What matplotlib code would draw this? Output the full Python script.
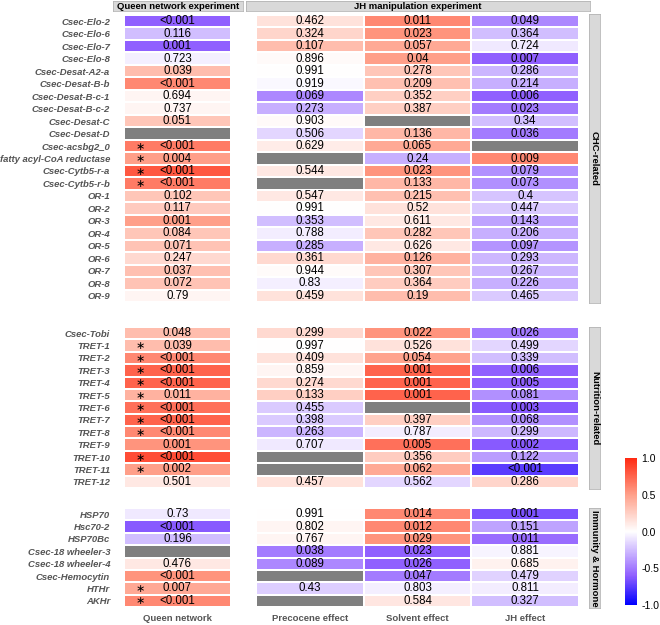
import numpy as np
import matplotlib.pyplot as plt
from matplotlib.colors import LinearSegmentedColormap, Normalize
from matplotlib.cm import ScalarMappable

plt.rcParams['font.family'] = ['Liberation Sans', 'DejaVu Sans']

# DATA
groups = ['CHC-related', 'Nutrition-related', 'Immunity & Hormone']
group_sizes = [23, 13, 8]

genes = ['Csec-Elo-2', 'Csec-Elo-6', 'Csec-Elo-7', 'Csec-Elo-8', 'Csec-Desat-A2-a',
         'Csec-Desat-B-b', 'Csec-Desat-B-c-1', 'Csec-Desat-B-c-2', 'Csec-Desat-C',
         'Csec-Desat-D', 'Csec-acsbg2_0', 'fatty acyl-CoA reductase', 'Csec-Cytb5-r-a',
         'Csec-Cytb5-r-b', 'OR-1', 'OR-2', 'OR-3', 'OR-4', 'OR-5', 'OR-6', 'OR-7', 'OR-8', 'OR-9',
         'Csec-Tobi', 'TRET-1', 'TRET-2', 'TRET-3', 'TRET-4', 'TRET-5', 'TRET-6', 'TRET-7',
         'TRET-8', 'TRET-9', 'TRET-10', 'TRET-11', 'TRET-12',
         'HSP70', 'Hsc70-2', 'HSP70Bc', 'Csec-18 wheeler-3', 'Csec-18 wheeler-4',
         'Csec-Hemocytin', 'HTHr', 'AKHr']

# queen network experiment
queen_p = ['<0.001', '0.116', '0.001', '0.723', '0.039', '<0.001', '0.694', '0.737', '0.051', '',
           '<0.001', '0.004', '<0.001', '<0.001', '0.102', '0.117', '0.001', '0.084', '0.071',
           '0.247', '0.037', '0.072', '0.79',
           '0.048', '0.039', '<0.001', '<0.001', '<0.001', '0.011', '<0.001', '<0.001', '<0.001',
           '0.001', '<0.001', '0.002', '0.501',
           '0.73', '<0.001', '0.196', '', '0.476', '<0.001', '0.007', '<0.001']
queen_eff = [-0.6, -0.25, -0.6, -0.06, 0.35, 0.6, 0.05, 0.05, 0.3, np.nan,
             0.65, 0.5, 0.8, 0.65, 0.3, 0.28, 0.5, 0.3, 0.32, 0.2, 0.33, 0.32, 0.05,
             0.35, 0.35, 0.6, 0.75, 0.75, 0.4, 0.7, 0.75, 0.6, 0.55, 0.85, 0.5, 0.12,
             -0.08, -0.62, -0.25, np.nan, 0.12, 0.55, 0.45, 0.6]
queen_sig = [0] * 10 + [1, 1, 1, 1] + [0] * 9 + \
            [0, 1, 1, 1, 1, 1, 1, 1, 1, 0, 1, 1, 0] + \
            [0, 0, 0, 0, 0, 0, 1, 1]

# JH manipulation experiment
prec_p = ['0.462', '0.324', '0.107', '0.896', '0.991', '0.919', '0.069', '0.273', '0.903', '0.506',
          '0.629', '', '0.544', '', '0.547', '0.991', '0.353', '0.788', '0.285', '0.361', '0.944',
          '0.83', '0.459',
          '0.299', '0.997', '0.409', '0.859', '0.274', '0.133', '0.455', '0.398', '0.263', '0.707',
          '', '', '0.457',
          '0.991', '0.802', '0.767', '0.038', '0.089', '', '0.43', '']
prec_eff = [0.15, 0.22, 0.35, 0.03, 0.0, -0.03, -0.45, -0.3, 0.03, -0.15,
            0.1, np.nan, 0.12, np.nan, 0.12, 0.0, -0.25, -0.07, -0.3, 0.2, 0.02, -0.06, 0.15,
            0.2, 0.0, 0.15, 0.05, 0.2, 0.25, -0.2, -0.2, -0.28, -0.08, np.nan, np.nan, 0.15,
            0.0, 0.05, 0.05, -0.5, -0.45, np.nan, -0.18, np.nan]

solv_p = ['0.011', '0.023', '0.057', '0.04', '0.278', '0.209', '0.352', '0.387', '', '0.136',
          '0.065', '0.24', '0.023', '0.133', '0.215', '0.52', '0.611', '0.282', '0.626', '0.126',
          '0.307', '0.364', '0.19',
          '0.022', '0.526', '0.054', '0.001', '0.001', '0.001', '', '0.397', '0.787', '0.005',
          '0.356', '0.062', '0.562',
          '0.014', '0.012', '0.029', '0.023', '0.026', '0.047', '0.803', '0.584']
solv_eff = [0.6, 0.55, 0.45, 0.5, 0.3, 0.33, 0.25, 0.25, np.nan, 0.38,
            0.45, -0.3, 0.55, 0.38, 0.33, 0.15, 0.12, 0.3, 0.12, 0.4, 0.3, 0.27, 0.35,
            0.55, 0.15, 0.48, 0.75, 0.75, 0.75, np.nan, 0.25, -0.07, 0.7, 0.27, 0.45, -0.15,
            0.6, 0.6, 0.55, -0.6, -0.6, -0.5, -0.06, 0.13]

jh_p = ['0.049', '0.364', '0.724', '0.007', '0.286', '0.214', '0.006', '0.023', '0.34', '0.036',
        '', '0.009', '0.079', '0.073', '0.4', '0.447', '0.143', '0.206', '0.097', '0.293',
        '0.267', '0.226', '0.465',
        '0.026', '0.499', '0.339', '0.006', '0.005', '0.081', '0.003', '0.068', '0.299', '0.002',
        '0.122', '<0.001', '0.286',
        '0.001', '0.151', '0.011', '0.881', '0.685', '0.479', '0.811', '0.327']
jh_eff = [-0.45, -0.25, -0.08, -0.6, -0.28, -0.3, -0.6, -0.5, -0.25, -0.5,
          np.nan, 0.6, -0.42, -0.42, -0.22, -0.2, -0.35, -0.3, -0.4, -0.27, -0.28, -0.3, -0.2,
          -0.5, -0.15, -0.25, -0.6, -0.6, -0.42, -0.62, -0.42, -0.27, -0.62, -0.37, -0.75, 0.22,
          -0.65, -0.35, -0.55, -0.04, 0.07, -0.17, -0.07, -0.25]

col_names = ['Queen network', 'Precocene effect', 'Solvent effect', 'JH effect']

# LAYOUT (pixels)
W, H = 660, 625
fig = plt.figure(figsize=(6.6, 6.25), dpi=100)


def box(x0, y0, x1, y1):
    return [x0 / W, 1 - y1 / H, (x1 - x0) / W, (y1 - y0) / H]


cmap = LinearSegmentedColormap.from_list('bwr2', [(0, '#0000ff'), (0.2, '#9060ff'), (0.5, '#ffffff'),
                                                  (0.75, '#ffa08a'), (1.0, '#ff2a12')])
cmap.set_bad('#7f7f7f')
norm = Normalize(-1, 1)

group_y = [(15, 302), (327, 488), (508, 607)]
strip_y = [(14, 303), (327, 489), (508, 608)]
label_col = '#555555'

start = 0
for g, n in enumerate(group_sizes):
    sl = slice(start, start + n)
    y0, y1 = group_y[g]

    # queen column
    ax = fig.add_axes(box(124, y0, 231, y1))
    data = np.ma.masked_invalid(np.array(queen_eff[sl]).reshape(-1, 1))
    ax.pcolormesh(np.arange(2), np.arange(n + 1), data, cmap=cmap, norm=norm,
                  edgecolors='white', linewidth=0.3)
    ax.set_xlim(0, 1)
    ax.set_ylim(n, 0)
    for sp in ax.spines.values():
        sp.set_visible(False)
    ax.set_yticks(np.arange(n) + 0.5, genes[sl])
    for lab in ax.get_yticklabels():
        lab.set_fontstyle('italic')
        lab.set_fontweight('bold')
        lab.set_color(label_col)
        lab.set_fontsize(6.8)
    ax.tick_params(length=0, pad=10)
    for i, (p, s) in enumerate(zip(queen_p[sl], queen_sig[sl])):
        ax.text(0.5, i + 0.5, p, ha='center', va='center', fontsize=8.3)
        if s:
            ax.text(0.15, i + 0.55, '\u2217', ha='center', va='center', fontsize=8,
                    family='DejaVu Sans')
    if g == len(group_sizes) - 1:
        ax.set_xticks([0.5], [col_names[0]])
        ax.tick_params(axis='x', length=0, pad=5)
        for lab in ax.get_xticklabels():
            lab.set_fontweight('bold')
            lab.set_color(label_col)
            lab.set_fontsize(6.8)
    else:
        ax.set_xticks([])

    # JH columns
    ax = fig.add_axes(box(256, y0, 579, y1))
    data = np.ma.masked_invalid(np.column_stack([prec_eff[sl], solv_eff[sl], jh_eff[sl]]))
    ax.pcolormesh(np.arange(4), np.arange(n + 1), data, cmap=cmap, norm=norm,
                  edgecolors='white', linewidth=0.3)
    ax.set_xlim(0, 3)
    ax.set_ylim(n, 0)
    for sp in ax.spines.values():
        sp.set_visible(False)
    ax.set_yticks([])
    for j, plist in enumerate([prec_p[sl], solv_p[sl], jh_p[sl]]):
        for i, p in enumerate(plist):
            ax.text(j + 0.5, i + 0.5, p, ha='center', va='center', fontsize=8.3)
    if g == len(group_sizes) - 1:
        ax.set_xticks([0.5, 1.5, 2.5], col_names[1:])
        ax.tick_params(axis='x', length=0, pad=5)
        for lab in ax.get_xticklabels():
            lab.set_fontweight('bold')
            lab.set_color(label_col)
            lab.set_fontsize(6.8)
    else:
        ax.set_xticks([])

    # right strip
    sy0, sy1 = strip_y[g]
    sax = fig.add_axes(box(589, sy0, 600, sy1))
    sax.set_facecolor('#d9d9d9')
    sax.set_xticks([])
    sax.set_yticks([])
    for sp in sax.spines.values():
        sp.set_color('#b5b5b5')
        sp.set_linewidth(0.6)
    sax.text(0.5, 0.5, groups[g], rotation=-90, ha='center', va='center',
             fontsize=6.8, fontweight='bold', transform=sax.transAxes)

    start += n

# headers
for (x0, x1), title in [((113, 243), 'Queen network experiment'),
                        ((246, 590), 'JH manipulation experiment')]:
    hax = fig.add_axes(box(x0, 1, x1, 11))
    hax.set_facecolor('#d9d9d9')
    hax.set_xticks([])
    hax.set_yticks([])
    for sp in hax.spines.values():
        sp.set_color('#b5b5b5')
        sp.set_linewidth(0.6)
    hax.text(0.5, 0.45, title, ha='center', va='center', fontsize=6.8,
             fontweight='bold', transform=hax.transAxes)

# colorbar
cax = fig.add_axes(box(625, 458, 637, 605))
cb = fig.colorbar(ScalarMappable(norm=norm, cmap=cmap), cax=cax,
                  ticks=[-1, -0.5, 0, 0.5, 1], format='%.1f')
cb.outline.set_visible(False)
cax.tick_params(length=0, labelsize=7.5, pad=3)

fig.savefig('out.png', dpi=100)
